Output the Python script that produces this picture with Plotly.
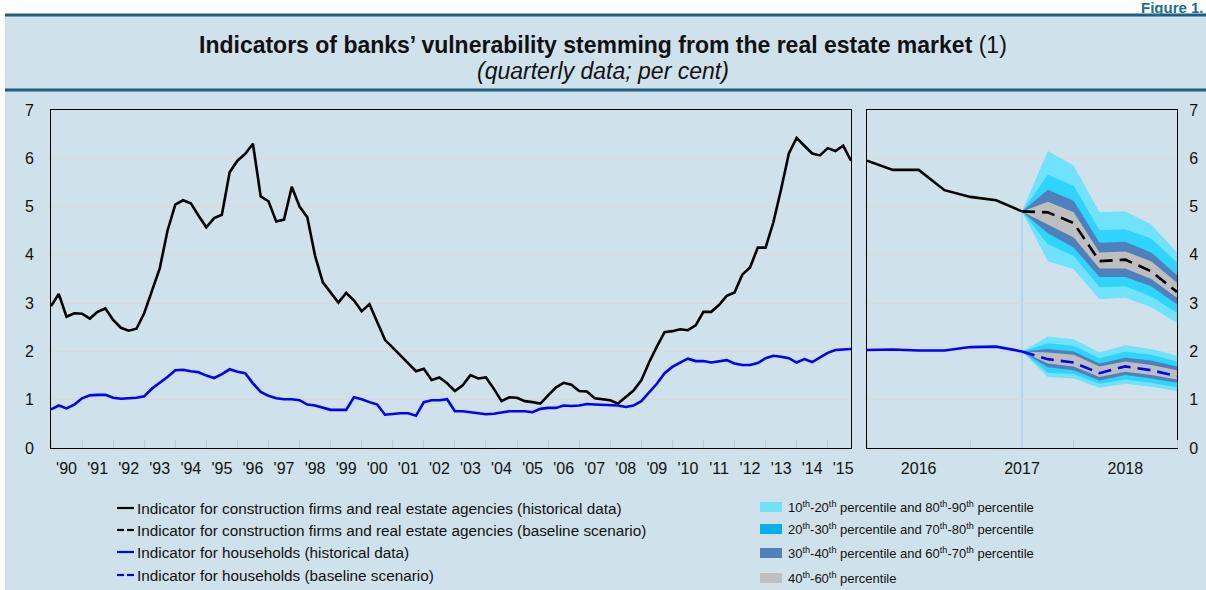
import plotly.graph_objects as go

# ---------------- data ----------------
years_left = list(range(1990, 2016))
year_labels_left = ["'90", "'91", "'92", "'93", "'94", "'95", "'96", "'97", "'98", "'99",
                    "'00", "'01", "'02", "'03", "'04", "'05", "'06", "'07", "'08", "'09",
                    "'10", "'11", "'12", "'13", "'14", "'15"]

construction_hist = [
    2.94, 3.19, 2.72, 2.79, 2.78, 2.68, 2.82, 2.89, 2.65, 2.49, 2.43, 2.47, 2.79, 3.27, 3.72, 4.50,
    5.04, 5.13, 5.07, 4.81, 4.57, 4.76, 4.83, 5.71, 5.95, 6.09, 6.30, 5.21, 5.11, 4.69, 4.73, 5.41,
    5.00, 4.78, 3.98, 3.43, 3.23, 3.01, 3.21, 3.06, 2.83, 2.98, 2.61, 2.24, 2.08, 1.92, 1.75, 1.59,
    1.64, 1.41, 1.46, 1.34, 1.18, 1.30, 1.51, 1.44, 1.46, 1.23, 0.97, 1.05, 1.04, 0.97, 0.95, 0.92,
    1.09, 1.25, 1.35, 1.31, 1.18, 1.17, 1.03, 1.01, 0.99, 0.92, 1.05, 1.19, 1.40, 1.77, 2.10, 2.40,
    2.42, 2.46, 2.44, 2.54, 2.82, 2.82, 2.96, 3.15, 3.22, 3.59, 3.74, 4.15, 4.15, 4.67, 5.36, 6.10,
    6.42, 6.26, 6.10, 6.06, 6.21, 6.15, 6.26, 5.95]

households_hist = [
    0.80, 0.88, 0.82, 0.90, 1.03, 1.09, 1.10, 1.10, 1.04, 1.02, 1.03, 1.04, 1.07, 1.23, 1.35, 1.47,
    1.61, 1.62, 1.59, 1.57, 1.50, 1.45, 1.53, 1.63, 1.58, 1.55, 1.34, 1.16, 1.08, 1.03, 1.01, 1.01,
    0.99, 0.90, 0.88, 0.83, 0.79, 0.79, 0.79, 1.05, 1.01, 0.95, 0.90, 0.69, 0.71, 0.72, 0.72, 0.67,
    0.95, 0.99, 0.99, 1.01, 0.76, 0.76, 0.74, 0.72, 0.70, 0.71, 0.74, 0.76, 0.76, 0.76, 0.74, 0.81,
    0.83, 0.83, 0.88, 0.87, 0.88, 0.91, 0.90, 0.89, 0.89, 0.88, 0.85, 0.88, 0.97, 1.15, 1.33, 1.55,
    1.68, 1.77, 1.85, 1.80, 1.80, 1.77, 1.80, 1.82, 1.75, 1.72, 1.72, 1.76, 1.86, 1.91, 1.89, 1.86,
    1.77, 1.84, 1.78, 1.87, 1.97, 2.03, 2.04, 2.05]

# right panel: quarters from end-2015 to end-2018
years_right = [2016, 2017, 2018]
year_labels_right = ["2016", "2017", "2018"]
quarters_right = [2016.0, 2016.25, 2016.5, 2016.75, 2017.0, 2017.25, 2017.5,
                  2017.75, 2018.0, 2018.25, 2018.5, 2018.75, 2019.0]
forecast_start = 6  # index in quarters_right where the scenario starts

construction_recent = [5.95, 5.76, 5.76, 5.34, 5.20, 5.13, 4.90]
construction_base = [4.90, 4.88, 4.66, 3.87, 3.90, 3.66, 3.23]
constr_p10 = [4.90, 3.87, 3.70, 3.08, 3.11, 2.92, 2.59]
constr_p20 = [4.90, 4.22, 3.98, 3.33, 3.35, 3.14, 2.80]
constr_p30 = [4.90, 4.45, 4.15, 3.54, 3.54, 3.35, 2.97]
constr_p40 = [4.90, 4.63, 4.36, 3.72, 3.72, 3.50, 3.11]
constr_p60 = [4.90, 5.10, 4.88, 4.05, 4.07, 3.87, 3.42]
constr_p70 = [4.90, 5.35, 5.12, 4.25, 4.27, 4.05, 3.58]
constr_p80 = [4.90, 5.66, 5.43, 4.51, 4.53, 4.34, 3.84]
constr_p90 = [4.90, 6.15, 5.85, 4.88, 4.90, 4.63, 4.05]

households_recent = [2.03, 2.04, 2.02, 2.02, 2.09, 2.10, 2.00]
households_base = [2.00, 1.84, 1.77, 1.55, 1.69, 1.61, 1.49]
house_p10 = [2.00, 1.47, 1.44, 1.25, 1.33, 1.27, 1.18]
house_p20 = [2.00, 1.56, 1.53, 1.33, 1.42, 1.35, 1.26]
house_p30 = [2.00, 1.67, 1.61, 1.40, 1.51, 1.44, 1.35]
house_p40 = [2.00, 1.75, 1.69, 1.47, 1.58, 1.51, 1.42]
house_p60 = [2.00, 1.98, 1.93, 1.69, 1.79, 1.72, 1.61]
house_p70 = [2.00, 2.05, 2.00, 1.75, 1.87, 1.81, 1.69]
house_p80 = [2.00, 2.17, 2.12, 1.86, 2.00, 1.93, 1.79]
house_p90 = [2.00, 2.31, 2.25, 1.98, 2.13, 2.05, 1.91]

line_legend = [
    "Indicator for construction firms and real estate agencies (historical data)",
    "Indicator for construction firms and real estate agencies (baseline scenario)",
    "Indicator for households (historical data)",
    "Indicator for households (baseline scenario)",
]
band_legend = [
    "10<sup>th</sup>-20<sup>th</sup> percentile and 80<sup>th</sup>-90<sup>th</sup> percentile",
    "20<sup>th</sup>-30<sup>th</sup> percentile and 70<sup>th</sup>-80<sup>th</sup> percentile",
    "30<sup>th</sup>-40<sup>th</sup> percentile and 60<sup>th</sup>-70<sup>th</sup> percentile",
    "40<sup>th</sup>-60<sup>th</sup> percentile",
]

# ---------------- style ----------------
W, H = 1206, 590
FONT = "Liberation Sans, Arial, Helvetica, sans-serif"
BG = "#cfe1eb"
RULE = "#1f5f80"
BLACK = "#000000"
BLUE = "#0000ff"
BAND_COLORS = ["#70e2fb", "#2ed4fc", "#4f80bb", "#bebebe"]
LEGEND_BAND_COLORS = ["#72e0f9", "#00b0f0", "#4f81bd", "#bfbfbf"]
GRID = "#d9d9d9"


def px(x):
    return x / W


def py(y):
    return 1 - y / H


x_left = [1990 + 0.25 * i for i in range(len(construction_hist))]
x_fc = quarters_right[forecast_start:]
x_hist_r = quarters_right[:forecast_start + 1]

fig = go.Figure()

# left panel lines
fig.add_trace(go.Scatter(x=x_left, y=construction_hist, mode="lines",
                         line=dict(color=BLACK, width=2.6), xaxis="x", yaxis="y"))
fig.add_trace(go.Scatter(x=x_left, y=households_hist, mode="lines",
                         line=dict(color=BLUE, width=2.6), xaxis="x", yaxis="y"))

# fan bands (right panel)
bands_c = [(constr_p10, constr_p90), (constr_p20, constr_p80), (constr_p30, constr_p70), (constr_p40, constr_p60)]
bands_h = [(house_p10, house_p90), (house_p20, house_p80), (house_p30, house_p70), (house_p40, house_p60)]
for bands in (bands_c, bands_h):
    for (lo, hi), col in zip(bands, BAND_COLORS):
        fig.add_trace(go.Scatter(x=x_fc + x_fc[::-1], y=hi + lo[::-1], mode="lines",
                                 fill="toself", fillcolor=col, line=dict(width=0, color=col),
                                 xaxis="x2", yaxis="y2", hoverinfo="skip"))

fig.add_trace(go.Scatter(x=x_hist_r, y=construction_recent, mode="lines",
                         line=dict(color=BLACK, width=2.6), xaxis="x2", yaxis="y2"))
fig.add_trace(go.Scatter(x=x_hist_r, y=households_recent, mode="lines",
                         line=dict(color=BLUE, width=2.6), xaxis="x2", yaxis="y2"))
fig.add_trace(go.Scatter(x=x_fc, y=construction_base, mode="lines",
                         line=dict(color=BLACK, width=2.6, dash="13px,7px"), xaxis="x2", yaxis="y2"))
fig.add_trace(go.Scatter(x=x_fc, y=households_base, mode="lines",
                         line=dict(color=BLUE, width=2.6, dash="13px,7px"), xaxis="x2", yaxis="y2"))

shapes = []
# background panel and rules
shapes.append(dict(type="rect", xref="paper", yref="paper", x0=px(5), x1=1, y0=0, y1=py(15),
                   fillcolor=BG, line=dict(width=0), layer="below"))
for yy in (15, 90):
    shapes.append(dict(type="line", xref="paper", yref="paper", x0=px(5), x1=1, y0=py(yy), y1=py(yy),
                       line=dict(color=RULE, width=3)))
# forecast start marker
shapes.append(dict(type="line", xref="x2", yref="y2", x0=quarters_right[forecast_start],
                   x1=quarters_right[forecast_start], y0=0, y1=construction_recent[-1],
                   line=dict(color="#8fd3ef", width=1), layer="below"))

annotations = []
annotations.append(dict(text="<b>Indicators of banks’ vulnerability stemming from the real estate market</b> (1)",
                        x=0.5, y=py(45), xref="paper", yref="paper", yanchor="middle", showarrow=False,
                        font=dict(size=23, color="#111111", family=FONT)))
annotations.append(dict(text="<i>(quarterly data; per cent)</i>", x=0.5, y=py(71), xref="paper", yref="paper",
                        yanchor="middle", showarrow=False, font=dict(size=23, color="#111111", family=FONT)))
annotations.append(dict(text="<b>Figure 1.</b>", x=1, y=py(7), xref="paper", yref="paper",
                        xanchor="right", yanchor="middle", showarrow=False,
                        font=dict(size=15, color="#1c6e96", family=FONT)))

# legend: lines
line_styles = [(BLACK, "solid"), (BLACK, "dash"), (BLUE, "solid"), (BLUE, "dash")]
rows_l = [508, 530, 552, 575]
for (col, st), yy, txt in zip(line_styles, rows_l, line_legend):
    if st == "solid":
        shapes.append(dict(type="line", xref="paper", yref="paper", x0=px(117), x1=px(134),
                           y0=py(yy), y1=py(yy), line=dict(color=col, width=2.2)))
    else:
        shapes.append(dict(type="line", xref="paper", yref="paper", x0=px(117), x1=px(124),
                           y0=py(yy), y1=py(yy), line=dict(color=col, width=2.2)))
        shapes.append(dict(type="line", xref="paper", yref="paper", x0=px(127), x1=px(134),
                           y0=py(yy), y1=py(yy), line=dict(color=col, width=2.2)))
    annotations.append(dict(text=txt, x=px(135), y=py(yy), xref="paper", yref="paper", xanchor="left",
                            yanchor="middle", showarrow=False, font=dict(size=15.3, color="#111111", family=FONT)))

rows_r = [507, 529, 553, 578]
for col, yy, txt in zip(LEGEND_BAND_COLORS, rows_r, band_legend):
    shapes.append(dict(type="rect", xref="paper", yref="paper", x0=px(760), x1=px(782),
                       y0=py(yy + 5), y1=py(yy - 5), fillcolor=col, line=dict(width=0)))
    annotations.append(dict(text=txt, x=px(786), y=py(yy), xref="paper", yref="paper", xanchor="left",
                            yanchor="middle", showarrow=False, font=dict(size=13, color="#111111", family=FONT)))

axis_common = dict(showline=True, linecolor=BLACK, linewidth=1, mirror=True, zeroline=False, automargin=False)
ydom = [py(448), py(110)]

fig.update_layout(
    width=W, height=H,
    autosize=False,
    margin=dict(l=0, r=0, t=0, b=0, pad=0),
    paper_bgcolor="#ffffff",
    plot_bgcolor="#ffffff",
    showlegend=False,
    font=dict(family=FONT, size=16, color="#111111"),
    shapes=shapes,
    annotations=annotations,
    xaxis=dict(domain=[px(51), px(851)], range=[1990, 1990 + 0.25 * (len(construction_hist) - 1)],
               tickmode="array", tickvals=[y + 0.5 for y in years_left], ticktext=year_labels_left,
               ticks="", showgrid=False, ticklabelstandoff=6,
               minor=dict(tick0=1990, dtick=1, ticks="inside", ticklen=8, tickcolor="#c8c8c8", showgrid=False),
               tickfont=dict(size=16), **axis_common),
    yaxis=dict(domain=ydom, range=[0, 7], dtick=1, showgrid=True, gridcolor=GRID, gridwidth=1,
               ticks="", ticklabelstandoff=13, tickfont=dict(size=16), anchor="x", **axis_common),
    xaxis2=dict(domain=[px(867), px(1177)], range=[quarters_right[0], quarters_right[-1]],
                tickmode="array", tickvals=[y + 0.5 for y in years_right], ticktext=year_labels_right,
                ticks="", showgrid=False, ticklabelstandoff=6, anchor="y2",
                minor=dict(tick0=2016, dtick=1, ticks="inside", ticklen=8, tickcolor="#c8c8c8", showgrid=False),
                tickfont=dict(size=16), **axis_common),
    yaxis2=dict(domain=ydom, range=[0, 7], dtick=1, showgrid=True, gridcolor=GRID, gridwidth=1,
                ticks="", side="right", ticklabelstandoff=8, tickfont=dict(size=16), anchor="x2",
                **axis_common),
)

fig.write_html(
    "out.html",
    config={"displayModeBar": False},
    post_script="document.documentElement.style.cssText='margin:0;padding:0;overflow:hidden;';"
                "document.body.style.cssText='margin:0;padding:0;overflow:hidden;';",
)
